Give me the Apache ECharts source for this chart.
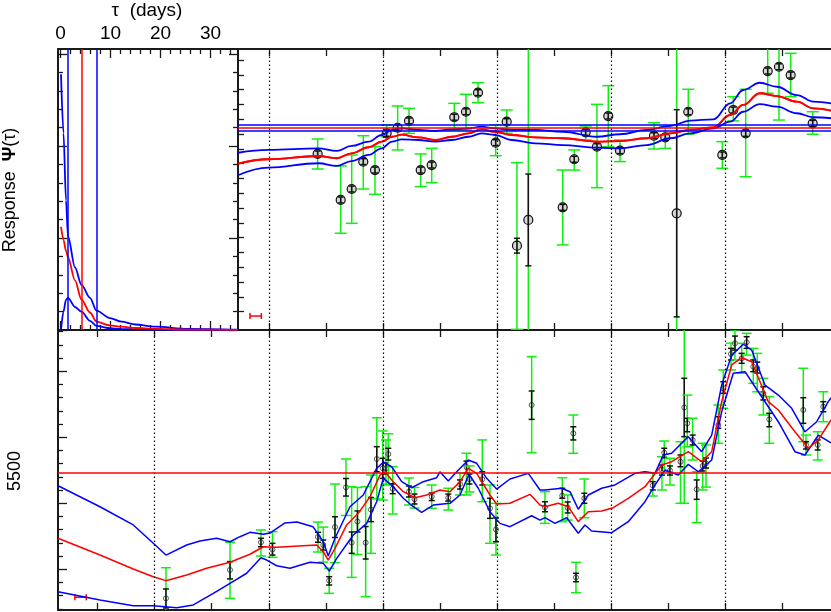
<!DOCTYPE html>
<html><head><meta charset="utf-8">
<script src="https://cdn.jsdelivr.net/npm/echarts@6/dist/echarts.min.js"></script>
<style>html,body{margin:0;padding:0;background:#fff}#c{width:831px;height:612px}</style>
</head><body><div id="c"></div>
<script>
// ================= DATA =================
// Response function panel (tau in days)
const tauTicks = [0, 10, 20, 30];
const tauMinorTicks = [2, 4, 6, 8, 12, 14, 16, 18, 22, 24, 26, 28, 32, 34];
const tauGrid   = [0.1, 0.6, 1.1, 1.5, 2.9, 4.2, 5.9, 7.2, 9.9, 12.2, 15, 18.9, 25.5, 35.5];
const psiUpper  = [2.78, 2.14, 1.41, 1.02, 0.68, 0.49, 0.35, 0.21, 0.13, 0.09, 0.06, 0.036, 0.012, 0.003];
const psiMedian = [1.12, 0.98, 0.86, 0.79, 0.54, 0.33, 0.19, 0.09, 0.05, 0.036, 0.022, 0.012, 0.004, 0.001];
const psiLower  = [0.0, 0.2, 0.33, 0.35, 0.25, 0.2, 0.1, 0.045, 0.02, 0.01, 0.006, 0.003, 0.001, 0];
const psiTicks = [0, 1, 2, 3];
const psiMinorTicks = [0.2, 0.4, 0.6, 0.8, 1.2, 1.4, 1.6, 1.8, 2.2, 2.4, 2.6, 2.8];
const lagLow = 1.4, lagMedian = 4.24, lagHigh = 7.24;

// Time axis (days)
const dayTicks = [10, 20, 30, 40, 50, 60, 70, 80, 90, 100, 110, 120, 130];
const dottedDays = [20, 40, 60, 80, 100, 120];

// Emission-line light curve (top right)
const lineDays  = [48.57, 52.61, 54.54, 56.57, 58.62, 60.67, 62.60, 64.59, 66.64, 68.57, 72.53, 74.58, 76.69, 79.79, 81.72, 83.52, 85.51, 91.54, 93.57, 95.57, 97.55, 99.53, 101.59, 107.55, 109.53, 111.53, 113.56, 119.53, 121.45, 123.63, 127.49, 129.47, 131.52, 135.38];
const lineFlux  = [11.66, 8.55, 9.29, 11.14, 10.57, 13.05, 13.43, 13.89, 10.57, 10.91, 14.14, 14.51, 15.80, 12.42, 13.84, 5.46, 7.20, 8.05, 11.30, 13.12, 12.15, 14.22, 11.88, 12.89, 12.78, 7.65, 14.51, 11.59, 14.63, 13.05, 17.26, 17.55, 16.99, 13.73];
const lineGreenLo = [10.64, 6.30, 6.97, 9.29, 8.93, 12.82, 11.93, 13.05, 9.45, 9.72, 13.28, 13.28, 15.12, 11.54, 13.05, -0.19, -3, 5.51, 10.57, 12.60, 9.38, 12.15, 11.14, 11.99, 12.04, -3, 12.99, 10.69, 13.89, 10.12, 15.76, 13.95, 15.53, 12.99];
const lineGreenHi = [12.67, 10.85, 11.59, 12.89, 12.15, 13.62, 14.90, 14.74, 11.66, 12.04, 15.08, 15.69, 16.47, 13.62, 14.63, 11.07, 22, 10.57, 11.93, 13.55, 15.01, 16.27, 12.60, 13.77, 13.50, 22, 16.03, 12.49, 15.53, 16.03, 18.8, 19.5, 18.46, 14.51];
const lineBlackErr = [0.2, 0.2, 0.2, 0.2, 0.2, 0.2, 0.2, 0.2, 0.2, 0.2, 0.2, 0.2, 0.2, 0.2, 0.2, 0.5, 3.1, 0.2, 0.2, 0.2, 0.2, 0.2, 0.2, 0.2, 0.2, 7.0, 0.2, 0.2, 0.2, 0.2, 0.2, 0.2, 0.2, 0.2];
const lineModelDays = [34.6, 39.9, 48.7, 51.9, 54.5, 57.5, 59.8, 61.6, 63.3, 66.2, 69.2, 72.1, 75.0, 77.3, 79.7, 82.6, 86.7, 91.6, 97.5, 101.6, 106.3, 110.4, 113.9, 118.0, 120.9, 123.2, 126.1, 129.1, 132.6, 135.5, 138.6];
const lineModelMed = [11.01, 11.30, 11.52, 11.37, 11.70, 12.11, 12.49, 12.82, 12.96, 12.78, 12.60, 12.82, 13.05, 13.32, 13.16, 12.94, 12.78, 12.72, 12.49, 12.53, 12.72, 13.05, 13.28, 13.46, 14.29, 14.97, 15.76, 15.57, 15.19, 14.74, 14.58];
const lineModelHi  = [11.74, 11.93, 12.04, 11.86, 12.20, 12.49, 12.94, 13.28, 13.39, 13.28, 13.21, 13.32, 13.39, 13.50, 13.39, 13.28, 13.28, 13.16, 12.82, 12.99, 13.28, 13.55, 13.91, 14.00, 15.08, 15.98, 16.47, 16.20, 15.64, 15.19, 15.08];
const lineModelLo  = [10.22, 10.73, 11.03, 10.85, 11.18, 11.59, 12.04, 12.49, 12.65, 12.60, 12.49, 12.60, 12.82, 13.05, 12.94, 12.60, 12.38, 12.26, 12.08, 12.04, 12.26, 12.72, 13.05, 13.39, 13.84, 14.51, 15.03, 14.85, 14.41, 14.14, 14.07];
const lineMeanLevels = [13.23, 13.46, 13.66];   // lower, mean, upper
const lineFluxTicks = [1, 2, 3, 4, 5, 6, 7, 8, 9, 10, 11, 12, 13, 14, 15, 16, 17, 18];
const lineResBar = [37.7, 0.71, 1.0];            // centre day, flux, half-width

// 5500 continuum light curve (bottom)
const contDays = [21.97, 33.20, 38.63, 40.65, 48.63, 49.56, 50.59, 51.61, 53.54, 54.54, 55.55, 56.99, 57.92, 58.94, 59.99, 60.55, 60.96, 61.73, 64.58, 65.55, 68.57, 71.48, 73.53, 74.67, 75.19, 77.44, 78.79, 79.84, 86.10, 88.43, 91.47, 92.41, 93.40, 93.87, 95.33, 107.34, 108.95, 109.35, 110.35, 112.20, 112.86, 113.39, 114.33, 115.04, 116.09, 116.67, 118.83, 119.70, 121.05, 121.75, 122.93, 123.80, 124.96, 125.66, 126.72, 127.77, 133.73, 134.20, 136.26, 137.24];
const contFlux = [7.80, 9.95, 12.05, 11.50, 12.45, 11.84, 9.15, 13.20, 16.21, 12.02, 13.62, 12.02, 14.52, 18.36, 17.65, 17.65, 18.73, 16.11, 15.88, 15.31, 15.50, 15.42, 16.46, 17.75, 16.84, 16.82, 14.62, 13.02, 22.45, 14.70, 15.58, 14.67, 20.30, 9.39, 15.38, 16.35, 17.56, 18.83, 17.48, 18.15, 22.26, 21.06, 19.80, 16.06, 17.83, 18.03, 20.93, 23.71, 26.31, 27.12, 25.98, 27.20, 25.35, 25.23, 23.33, 21.36, 22.07, 19.42, 19.42, 22.32];
const contBlackLo = [7.07, 9.27, 11.71, 11.08, 12.05, 11.46, 8.81, 12.41, 15.55, 11.21, 12.83, 10.78, 13.61, 17.39, 16.89, 17.22, 18.28, 15.73, 15.48, 14.95, 15.21, 15.17, 16.08, 17.30, 16.46, 16.39, 13.86, 12.09, 21.36, 14.36, 15.38, 14.27, 19.80, 9.06, 15.00, 16.01, 17.14, 18.45, 17.14, 17.77, 20.05, 20.42, 19.42, 15.30, 17.45, 17.67, 20.68, 23.33, 25.86, 26.61, 25.61, 26.74, 24.97, 24.87, 22.83, 20.80, 21.06, 19.11, 19.04, 21.94];
const contBlackHi = [8.51, 10.58, 12.35, 11.97, 12.80, 12.22, 9.44, 13.98, 16.88, 12.83, 14.42, 13.24, 15.44, 19.29, 18.41, 18.05, 19.17, 16.48, 16.31, 15.70, 15.78, 15.70, 16.77, 18.20, 17.22, 17.39, 15.38, 13.89, 23.51, 15.12, 16.14, 15.10, 20.80, 9.70, 15.76, 16.64, 17.90, 19.17, 17.83, 18.66, 24.47, 21.44, 20.17, 16.77, 18.20, 18.43, 21.56, 24.21, 26.74, 27.67, 26.36, 27.62, 25.86, 25.70, 23.83, 21.82, 23.00, 19.67, 19.80, 22.70];
const contGreenLo = [6.79, 7.80, 11.01, 10.91, 11.31, 10.55, 8.18, 10.50, 14.08, 9.39, 11.12, 7.92, 11.21, 15.33, 15.25, 16.39, 16.46, 14.19, 14.87, 14.64, 14.62, 14.49, 15.63, 15.63, 15.86, 15.12, 11.97, 11.08, 18.83, 13.48, 13.61, 13.73, 18.79, 8.23, 13.91, 15.55, 16.01, 17.39, 16.39, 15.00, 15.00, 19.29, 18.28, 13.53, 16.01, 16.23, 19.55, 22.20, 25.10, 25.86, 24.85, 26.23, 24.09, 23.45, 21.69, 19.55, 19.67, 18.66, 18.28, 21.18];
const contGreenHi = [10.12, 12.05, 12.98, 12.85, 13.58, 13.20, 10.08, 16.46, 18.36, 16.26, 16.20, 16.26, 17.14, 21.48, 20.48, 19.80, 20.27, 17.77, 16.92, 16.20, 16.39, 16.14, 17.30, 18.79, 17.83, 19.80, 16.39, 15.00, 26.11, 15.88, 16.94, 15.63, 21.69, 10.53, 16.84, 17.32, 18.53, 19.72, 18.41, 19.67, 30.00, 23.20, 21.44, 17.39, 19.55, 19.42, 22.45, 25.10, 27.14, 28.14, 27.12, 27.88, 26.74, 26.36, 24.47, 23.08, 25.23, 20.17, 20.42, 23.45];
const contModelHi = [[3.05,16.33],[10.40,14.74],[16.24,13.36],[19.75,11.97],[21.97,11.08],[25.60,11.84],[27.93,12.14],[30.86,12.35],[33.20,12.09],[34.95,12.47],[36.70,12.80],[39.04,12.65],[40.21,12.75],[42.84,13.51],[44.94,13.58],[47.75,13.23],[49.56,12.09],[50.43,11.01],[51.61,12.35],[54.24,14.74],[56.57,15.63],[58.92,17.65],[60.08,18.11],[61.55,17.77],[63.31,16.64],[65.06,16.18],[67.09,16.64],[69.44,16.94],[70.02,17.39],[71.48,16.69],[72.95,17.39],[74.98,18.28],[76.46,18.03],[78.21,16.89],[79.96,16.08],[82.30,16.84],[85.51,17.27],[87.56,16.01],[88.43,16.01],[91.36,16.14],[92.82,15.88],[94.27,14.55],[96.03,15.63],[98.38,16.14],[100.71,16.39],[104.22,17.27],[105.97,17.39],[107.72,17.27],[109.18,18.66],[110.65,18.79],[113.56,20.05],[115.91,18.91],[117.67,20.17],[119.42,23.96],[121.18,26.23],[123.21,27.05],[124.68,26.61],[127.01,23.96],[129.35,23.20],[131.70,22.20],[134.03,20.42],[136.08,21.18],[138.11,22.70],[138.59,22.98]];
const contModelMed = [[3.05,12.35],[10.40,11.08],[16.24,10.02],[19.75,9.44],[21.97,9.14],[25.60,9.57],[29.11,10.08],[33.20,10.53],[36.70,11.14],[39.04,11.71],[41.39,11.67],[48.40,11.84],[49.56,11.33],[50.43,10.70],[51.61,11.59],[53.66,13.36],[55.69,14.24],[57.75,15.50],[59.50,17.14],[60.38,17.39],[61.83,16.64],[63.59,15.88],[65.64,15.42],[67.69,15.63],[70.02,16.01],[71.78,15.88],[73.53,16.64],[74.98,17.65],[76.46,17.27],[78.79,15.63],[79.96,14.95],[82.30,15.00],[85.80,15.68],[87.56,14.87],[88.43,14.74],[90.77,15.00],[92.52,14.74],[94.27,13.61],[96.03,14.36],[98.38,14.42],[100.41,14.67],[103.04,15.38],[105.97,16.26],[108.90,17.90],[110.65,18.15],[113.56,18.91],[115.91,18.15],[117.67,18.91],[119.42,22.70],[121.18,25.48],[122.93,26.03],[124.68,25.73],[127.59,22.70],[129.35,22.07],[132.27,20.42],[134.61,19.17],[136.36,19.80],[138.59,21.31]];
const contModelLo = [[3.05,8.30],[10.40,7.67],[16.24,7.24],[19.75,7.24],[23.85,7.09],[26.76,7.30],[30.27,8.18],[33.20,8.94],[36.12,9.70],[38.63,10.88],[39.63,10.70],[41.39,10.27],[43.72,10.08],[47.22,10.53],[49.56,10.45],[50.61,9.87],[51.91,10.83],[54.82,12.60],[57.17,13.48],[58.92,15.12],[60.08,16.89],[61.83,16.26],[63.59,15.38],[65.34,14.74],[66.81,14.32],[68.85,14.87],[71.78,15.00],[73.53,15.63],[75.11,17.20],[76.74,16.14],[78.79,14.36],[80.54,13.48],[82.30,13.23],[86.10,14.06],[87.56,13.73],[88.43,13.91],[90.19,13.48],[92.24,13.91],[94.27,12.73],[95.45,13.36],[96.62,12.90],[100.13,12.77],[103.04,13.61],[105.97,15.12],[107.72,16.39],[109.48,17.52],[111.81,17.14],[113.56,17.95],[115.32,17.39],[117.67,18.28],[119.42,21.94],[121.45,24.85],[123.51,24.97],[125.84,23.45],[129.35,21.18],[132.27,18.91],[134.03,18.66],[136.36,20.17],[138.59,19.57]];
const contMean = 17.32;
const contMinorTicks = [7, 8, 9, 11, 12, 13, 14, 16, 17, 18, 19, 21, 22, 23, 24, 26, 27, 28];
const contMajorTicks = [10, 15, 20, 25];
const contResBar = [7.0, 7.88, 1.0];

// axis extents
const TAU_MIN = -0.5, TAU_MAX = 35.5, PSI_MIN = 0, PSI_MAX = 3.054;
const DAY_MIN = 3.04, DAY_MIN_TOP = 34.60, DAY_MAX = 138.59;
const LINE_MIN = -0.236, LINE_MAX = 18.75, CONT_MIN = 6.917, CONT_MAX = 28.13;

// ================= STYLE / BUILD =================
const AX = '#1a1a1a', BLUE = '#0000ff', RED = '#ff0000', GREEN = '#10f010';
const FONT = '"Liberation Sans", Arial, Helvetica, sans-serif';
const xAxes = [], yAxes = [];
function axis(list, o) {
  list.push(Object.assign({
    type: 'value', splitLine: {show: false}, axisLabel: {show: false},
    axisLine: {show: false, onZero: false}, axisTick: {show: false}
  }, o));
  return list.length - 1;
}
const border = {show: true, onZero: false, lineStyle: {color: AX, width: 2}};
function ticks(values, len) {
  return {show: true, inside: true, length: len, customValues: values, lineStyle: {color: AX, width: 1.3}};
}
const within = (arr, a, b) => arr.filter(v => v > a && v < b);

// grid 0 : response function
const gx0 = axis(xAxes, {gridIndex: 0, position: 'top', min: TAU_MIN, max: TAU_MAX, axisLine: border,
  axisTick: ticks(tauTicks, 9),
  axisLabel: {show: true, customValues: tauTicks, fontSize: 19, color: '#000', fontFamily: FONT, margin: 6}});
axis(xAxes, {gridIndex: 0, position: 'top', min: TAU_MIN, max: TAU_MAX, axisTick: ticks(tauMinorTicks, 5)});
axis(xAxes, {gridIndex: 0, position: 'bottom', min: TAU_MIN, max: TAU_MAX, axisLine: border, axisTick: ticks(tauTicks, 9)});
axis(xAxes, {gridIndex: 0, position: 'bottom', min: TAU_MIN, max: TAU_MAX, axisTick: ticks(tauMinorTicks, 5)});
const gy0 = axis(yAxes, {gridIndex: 0, position: 'left', min: PSI_MIN, max: PSI_MAX, axisLine: border, axisTick: ticks(psiTicks, 9)});
axis(yAxes, {gridIndex: 0, position: 'left', min: PSI_MIN, max: PSI_MAX, axisTick: ticks(psiMinorTicks, 5)});
axis(yAxes, {gridIndex: 0, position: 'right', min: PSI_MIN, max: PSI_MAX, axisLine: border, axisTick: ticks(psiTicks, 9)});
axis(yAxes, {gridIndex: 0, position: 'right', min: PSI_MIN, max: PSI_MAX, axisTick: ticks(psiMinorTicks, 5)});

// grid 1 : line light curve
const topDayTicks = within(dayTicks, DAY_MIN_TOP, DAY_MAX);
const gx1 = axis(xAxes, {gridIndex: 1, position: 'top', min: DAY_MIN_TOP, max: DAY_MAX, axisLine: border, axisTick: ticks(topDayTicks, 7)});
axis(xAxes, {gridIndex: 1, position: 'bottom', min: DAY_MIN_TOP, max: DAY_MAX, axisLine: border, axisTick: ticks(topDayTicks, 7)});
const gy1 = axis(yAxes, {gridIndex: 1, position: 'left', min: LINE_MIN, max: LINE_MAX, axisLine: border, axisTick: ticks(lineFluxTicks, 6)});

// grid 2 : continuum light curve
const botDayTicks = within(dayTicks, DAY_MIN, DAY_MAX);
const gx2 = axis(xAxes, {gridIndex: 2, position: 'top', min: DAY_MIN, max: DAY_MAX, axisLine: border, axisTick: ticks(botDayTicks, 7)});
axis(xAxes, {gridIndex: 2, position: 'bottom', min: DAY_MIN, max: DAY_MAX, axisLine: border, axisTick: ticks(botDayTicks, 7)});
const gy2 = axis(yAxes, {gridIndex: 2, position: 'left', min: CONT_MIN, max: CONT_MAX, axisLine: border, axisTick: ticks(contMajorTicks, 9)});
axis(yAxes, {gridIndex: 2, position: 'left', min: CONT_MIN, max: CONT_MAX, axisTick: ticks(contMinorTicks, 5)});

function seg(x1, y1, x2, y2, color, w) {
  return {type: 'line', shape: {x1, y1, x2, y2}, style: {stroke: color, lineWidth: w}};
}
function errorBarRender(cfg) {
  return function (params, api) {
    const d = api.value(0);
    const c = api.coord([d, api.value(1)]);
    const x = c[0];
    const bl = api.coord([d, api.value(2)])[1], bh = api.coord([d, api.value(3)])[1];
    const gl = api.coord([d, api.value(4)])[1], gh = api.coord([d, api.value(5)])[1];
    return {type: 'group', children: [
      seg(x, gl, x, gh, GREEN, 1.5),
      seg(x - cfg.gCap, gl, x + cfg.gCap, gl, GREEN, 1.5),
      seg(x - cfg.gCap, gh, x + cfg.gCap, gh, GREEN, 1.5),
      {type: 'circle', shape: {cx: x, cy: c[1], r: cfg.r}, style: {fill: cfg.fill, stroke: cfg.circ, lineWidth: cfg.cw}},
      seg(x, bl, x, bh, '#111', 1.5),
      seg(x - cfg.bCap, bl, x + cfg.bCap, bl, '#111', 1.5),
      seg(x - cfg.bCap, bh, x + cfg.bCap, bh, '#111', 1.5)
    ]};
  };
}
function resBarRender(params, api) {
  const a = api.coord([api.value(0) - api.value(2), api.value(1)]);
  const b = api.coord([api.value(0) + api.value(2), api.value(1)]);
  return {type: 'group', children: [
    seg(a[0], a[1], b[0], b[1], RED, 1.5),
    seg(a[0], a[1] - 3, a[0], a[1] + 3, RED, 1.5),
    seg(b[0], b[1] - 3, b[0], b[1] + 3, RED, 1.5)
  ]};
}
function lineSeries(xi, yi, data, color, smooth, width, extra) {
  return Object.assign({type: 'line', xAxisIndex: xi, yAxisIndex: yi, data, showSymbol: false, symbol: 'none',
    smooth: smooth, smoothMonotone: smooth ? 'x' : undefined, clip: true,
    lineStyle: {color, width: width}, itemStyle: {color}, silent: true}, extra || {});
}
const zip = (a, b) => a.map((v, i) => [v, b[i]]);
const dotted = {type: [1.5, 2.5], color: '#000', width: 1.2};

const lineRows = lineDays.map((d, i) => [d, lineFlux[i], lineFlux[i] - lineBlackErr[i], lineFlux[i] + lineBlackErr[i], lineGreenLo[i], lineGreenHi[i]]);
const contRows = contDays.map((d, i) => [d, contFlux[i], contBlackLo[i], contBlackHi[i], contGreenLo[i], contGreenHi[i]]);

const series = [
  // response function
  lineSeries(gx0, gy0, zip(tauGrid, psiUpper), BLUE, 0.3, 1.8),
  lineSeries(gx0, gy0, zip(tauGrid, psiLower), BLUE, 0.3, 1.8),
  lineSeries(gx0, gy0, zip(tauGrid, psiMedian), RED, 0.3, 1.8, {
    markLine: {silent: true, symbol: 'none', label: {show: false}, animation: false,
      data: [
        {xAxis: lagLow, lineStyle: {color: BLUE, width: 1.5, type: 'solid'}},
        {xAxis: lagMedian, lineStyle: {color: RED, width: 1.5, type: 'solid'}},
        {xAxis: lagHigh, lineStyle: {color: BLUE, width: 1.5, type: 'solid'}}
      ]}
  }),
  // line light curve
  lineSeries(gx1, gy1, zip(lineModelDays, lineModelMed), RED, 0.4, 1.8, {
    markLine: {silent: true, symbol: 'none', label: {show: false}, animation: false,
      data: within(dottedDays, DAY_MIN_TOP, DAY_MAX).map(d => ({xAxis: d, lineStyle: dotted}))
        .concat([
          {yAxis: lineMeanLevels[0], lineStyle: {color: BLUE, width: 1.5, type: 'solid'}},
          {yAxis: lineMeanLevels[1], lineStyle: {color: RED, width: 1.5, type: 'solid'}},
          {yAxis: lineMeanLevels[2], lineStyle: {color: BLUE, width: 1.5, type: 'solid'}}
        ])}
  }),
  {type: 'custom', xAxisIndex: gx1, yAxisIndex: gy1, clip: true, silent: true, data: lineRows,
    encode: {x: 0, y: 1}, renderItem: errorBarRender({gCap: 6, bCap: 3, r: 4.5, circ: '#111', cw: 1.2, fill: 'rgba(140,140,140,0.35)'})},
  lineSeries(gx1, gy1, zip(lineModelDays, lineModelHi), BLUE, 0.4, 1.8),
  lineSeries(gx1, gy1, zip(lineModelDays, lineModelLo), BLUE, 0.4, 1.8),
  lineSeries(gx1, gy1, zip(lineModelDays, lineModelMed), RED, 0.4, 1.8),
  {type: 'custom', xAxisIndex: gx1, yAxisIndex: gy1, clip: true, silent: true, data: [lineResBar],
    encode: {x: 0, y: 1}, renderItem: resBarRender},
  // continuum light curve
  {type: 'custom', xAxisIndex: gx2, yAxisIndex: gy2, clip: true, silent: true, data: contRows,
    encode: {x: 0, y: 1}, renderItem: errorBarRender({gCap: 5, bCap: 3, r: 2.5, circ: '#555', cw: 1, fill: 'none'})},
  lineSeries(gx2, gy2, contModelHi, BLUE, false, 1.5),
  lineSeries(gx2, gy2, contModelLo, BLUE, false, 1.5),
  lineSeries(gx2, gy2, contModelMed, RED, false, 1.5, {
    markLine: {silent: true, symbol: 'none', label: {show: false}, animation: false,
      data: within(dottedDays, DAY_MIN, DAY_MAX).map(d => ({xAxis: d, lineStyle: dotted}))
        .concat([{yAxis: contMean, lineStyle: {color: RED, width: 1.5, type: 'solid'}}])}
  }),
  {type: 'custom', xAxisIndex: gx2, yAxisIndex: gy2, clip: true, silent: true, data: [contResBar],
    encode: {x: 0, y: 1}, renderItem: resBarRender}
];

const chart = echarts.init(document.getElementById('c'), null, {renderer: 'canvas'});
chart.setOption({
  animation: false,
  backgroundColor: '#fff',
  grid: [
    {left: 58, top: 49, width: 180, height: 281, containLabel: false, outerBoundsMode: 'none'},
    {left: 238, top: 49, width: 593, height: 281, containLabel: false, outerBoundsMode: 'none'},
    {left: 58, top: 330, width: 773, height: 280, containLabel: false, outerBoundsMode: 'none'}
  ],
  xAxis: xAxes,
  yAxis: yAxes,
  series: series,
  graphic: [
    {type: 'text', x: 147, y: 11, style: {text: 'τ  (days)', font: '19px ' + FONT, fill: '#000', align: 'center', verticalAlign: 'middle'}},
    {type: 'text', x: 10, y: 190, rotation: Math.PI / 2,
      style: {text: '{a|Response  }{b|Ψ}{a|(τ)}', align: 'center', verticalAlign: 'middle',
        rich: {a: {fontSize: 18, fontFamily: FONT, fill: '#000'}, b: {fontSize: 18, fontFamily: FONT, fontWeight: 'bold', fill: '#000'}}}},
    {type: 'text', x: 15, y: 471, rotation: Math.PI / 2,
      style: {text: '5500', font: '18px ' + FONT, fill: '#000', align: 'center', verticalAlign: 'middle'}}
  ]
});
</script></body></html>
